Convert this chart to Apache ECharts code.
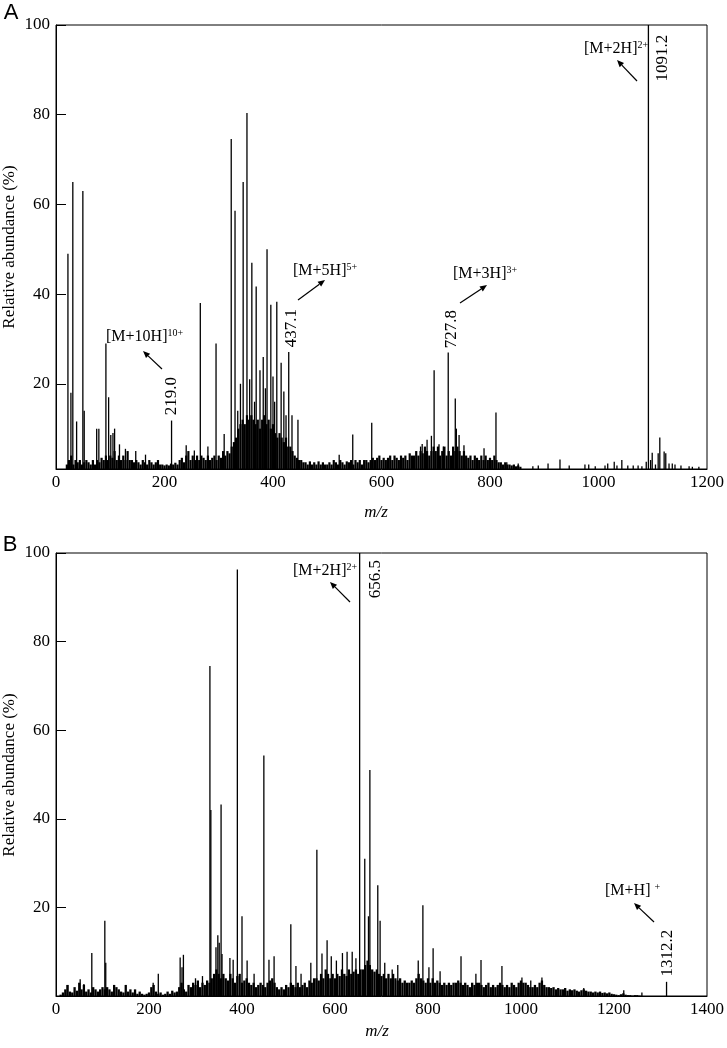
<!DOCTYPE html>
<html>
<head>
<meta charset="utf-8">
<script src="https://cdn.jsdelivr.net/npm/echarts@6.0.0/dist/echarts.min.js"></script>
<style>
  html, body { margin: 0; padding: 0; background: #fff; }
  #chart { width: 727px; height: 1048px; }
</style>
</head>
<body>
<div id="chart"></div>
<script>
// 两张质谱图的数据 (m/z, 相对丰度)
var peaksA = [
  [22, 49], [27.5, 18], [31, 65], [38, 11.6], [49.5, 63], [52, 14], [75, 10], [79, 10], [92, 29], [97, 17],
  [101, 8.6], [105, 9], [108, 10], [117, 6.5], [128, 5.5], [147, 5], [165, 4.2], [213, 11.8], [240, 6.3], [255, 5.1],
  [266, 38], [280, 6], [295, 29], [310, 8.8], [323, 74.6], [330, 58.6], [335, 14], [340, 20], [345, 65], [352, 80.4],
  [357, 21], [361, 47], [366, 16], [369, 41.7], [376, 23], [382, 26], [386, 19], [389, 50], [396, 37.6], [400, 21.6],
  [403, 16], [407, 38.3], [415, 24.7], [420, 18.3], [424, 13], [429, 27.1], [435, 13], [446, 12], [522, 4.2], [547, 8.7],
  [582, 11.3], [672, 6], [675, 6.6], [684, 7.5], [692, 8.4], [697, 23], [706, 6.5], [714, 6], [723, 27], [736, 16.7],
  [738, 10], [743, 8.6], [752, 6.3], [789, 5.6], [811, 13.6],
  [831, 2.5], [852, 2.2], [879, 1.6], [889, 1.8], [907, 2.2], [929, 3.1], [946, 1.8], [975, 2], [982, 2], [994, 1.6],
  [1012, 1.8], [1017, 2.2], [1029, 2.6], [1034, 1.8], [1043, 3], [1054, 1.8], [1064, 1.8], [1073, 1.8], [1080, 1.6], [1088, 2.6],
  [1092, 100], [1096, 3], [1099, 4.6], [1105, 2], [1110, 4.5], [1113, 8], [1121, 4.9], [1124, 4.5], [1130, 2.2], [1136, 2.2],
  [1141, 2], [1152, 1.8], [1167, 1.6], [1173, 1.5], [1185, 1.5]
];

// 基线噪声：从 20 开始，每 4 个 m/z 一个值
var noiseAStart = 20;
var noiseAStep = 4;
var noiseA = [
  2, 3, 4, 2, 3, 2.5, 3, 2, 2.5, 3,
  2.5, 2, 3, 2, 3, 2.5, 3.5, 3, 4, 3,
  4, 3.5, 5, 3, 4, 3, 4, 3, 5, 3,
  3, 2.5, 3, 2.5, 2, 3, 2.5, 2, 3, 2.5,
  2, 2.5, 3, 2, 2, 1.8, 2, 1.8, 2.2, 2,
  2.4, 2, 3, 3.5, 2.5, 4, 5, 3, 4, 3,
  4, 3, 4, 3.5, 3, 4, 3, 3.5, 4, 3,
  4, 3.5, 5, 4, 5, 4.5, 6, 7, 8, 10,
  11, 12, 11, 13, 12, 13, 12, 11, 12, 10,
  12, 13, 11, 12, 10, 11, 9, 8, 9, 8,
  7, 8, 6, 6, 5, 4, 3.5, 3, 3, 2.5,
  2.5, 2, 2.7, 2, 2.5, 2, 2.7, 2, 2.5, 2,
  2, 2.5, 2, 3, 2.5, 2, 3, 2.5, 2, 2.7,
  2.5, 3, 2, 3, 2.5, 3, 2, 3, 3, 2.5,
  3, 3.5, 3, 3.5, 4, 3, 3.5, 3, 3.5, 4,
  3, 4, 3.5, 3, 4, 3.5, 4, 3, 4.5, 4,
  4, 5, 4, 5, 4.5, 6, 5, 4, 5, 6,
  5, 6, 4, 5, 6, 4, 5, 4, 6, 5,
  6, 5, 4, 5, 4, 3.5, 4, 3, 4, 3.5,
  3, 4, 3, 4, 3, 3.5, 3, 4, 3, 2.5,
  2.5, 2, 2.5, 2, 2, 1.8, 2, 1.6, 1.8, 1.5
];

var peaksB = [
  [24, 2.5], [52, 3.8], [60, 2.7], [77, 9.7], [105, 17], [107, 7.5], [209, 3], [220, 5], [267, 8.7], [271, 6.5],
  [274, 9.3], [300, 4], [315, 4.5], [331, 74.5], [333, 42], [344, 11], [348, 13.7], [351, 12], [355, 43.2], [357, 9.5],
  [374, 8.6], [381, 8.2], [390, 96.3], [400, 18], [411, 8], [426, 5], [447, 54.3], [458, 8.2], [469, 9], [505, 16.2],
  [516, 6.8], [527, 5], [548, 7.5], [561, 33], [572, 9.6], [583, 12.6], [592, 9], [603, 8], [616, 9.7], [626, 10],
  [637, 10], [645, 8.5], [653, 100], [664, 31], [672, 18], [675, 51], [692, 25], [697, 17], [707, 7.5], [723, 6],
  [735, 7], [779, 8], [789, 20.5], [802, 6.5], [811, 10.8], [826, 5.6], [871, 9], [903, 5], [914, 8.1], [959, 6.8],
  [1002, 4.2], [1021, 3.5], [1045, 4.2], [1135, 1.8], [1221, 1.3], [1260, 0.8], [1313, 3.2]
];

// 基线噪声：从 10 开始，每 5 个 m/z 一个值
var noiseBStart = 10;
var noiseBStep = 5;
var noiseB = [
  0.3, 0.8, 1.5, 2.5, 1, 0.8, 2, 1.2, 3, 1.5,
  2.5, 1, 1.5, 0.8, 2, 1.5, 1, 1.5, 2, 1.5,
  2, 1.5, 1, 2.5, 2, 1.5, 1, 0.8, 2.5, 1,
  1.5, 0.8, 1.5, 0.5, 1, 0.5, 0.3, 0.5, 0.8, 2,
  2.5, 1, 0.5, 0.8, 0.3, 0.5, 1, 0.5, 1.2, 0.8,
  1, 2, 3, 1.5, 1, 2.5, 2, 3, 2.5, 3.5,
  2, 3, 2.5, 3.5, 3, 4, 5, 6, 5, 4,
  5, 4, 3.5, 5, 4, 3, 4.5, 5, 3, 3.5,
  4, 3, 2.5, 3, 2, 2.5, 3, 2.5, 2, 3,
  3.5, 4, 3, 2, 1.5, 2, 1.5, 2.5, 2, 3,
  2.5, 2, 3, 2, 2.5, 3, 2, 3.5, 3, 4,
  4, 3.5, 5, 4, 6, 5, 4, 5, 4, 5,
  4.5, 6, 5, 4.5, 6, 5, 5.5, 6, 5, 6,
  6, 7, 8, 7, 6, 5.5, 6, 5, 4.5, 5,
  4, 5, 4, 5, 4, 3.5, 4, 3, 3.5, 3,
  3, 3.5, 3, 4, 5, 4, 3.5, 3, 4, 3,
  4, 3, 3.5, 3, 2.5, 3, 2.5, 3, 2.5, 3,
  3, 3.5, 3, 2.5, 3, 2.5, 2, 3, 2.5, 3,
  3, 2.5, 2, 2.5, 3, 2, 2.5, 2, 2.5, 3,
  2.5, 2, 2.5, 2, 3, 2.5, 2, 3, 3.5, 3,
  3, 2.5, 2, 2, 2.5, 2, 3, 3.5, 2.5, 2,
  2, 1.8, 2, 1.5, 1.8, 1.5, 1.5, 1.8, 1.2, 1.5,
  1.3, 1.5, 1.2, 1, 1.3, 1.5, 1.2, 1, 1, 0.8,
  1, 0.8, 1, 0.7, 0.8, 0.6, 0.8, 0.5, 0.4, 0.3,
  0.2, 0.4, 0.6, 0.3, 0.2, 0.2, 0.1, 0.2, 0.2, 0.1
];

var yTicks = [20, 40, 60, 80, 100];

var SERIF = '"Liberation Serif", "Times New Roman", serif';

function noisePoints(start, step, values) {
  return values.map(function (v, i) { return [start + i * step, v]; });
}

// 每个峰画成一条从基线到峰顶的竖线
function sticks(idx, data, w) {
  return {
    type: 'custom',
    xAxisIndex: idx,
    yAxisIndex: idx,
    data: data,
    silent: true,
    clip: true,
    renderItem: function (params, api) {
      var p = api.coord([api.value(0), api.value(1)]);
      var base = params.coordSys.y + params.coordSys.height;
      if (p[1] >= base) return null;
      return {
        type: 'line',
        shape: { x1: p[0], y1: base, x2: p[0], y2: p[1] },
        style: { stroke: '#000', lineWidth: w }
      };
    }
  };
}

function xAxisOf(idx, max) {
  return {
    type: 'value', gridIndex: idx, min: 0, max: max, interval: 200,
    axisLine: { show: true, lineStyle: { color: '#000', width: 1 } },
    axisTick: { show: false },
    splitLine: { show: false },
    axisLabel: {
      color: '#000', fontFamily: SERIF, fontSize: 17, margin: 5,
      formatter: function (v) { return String(v); }
    }
  };
}

function yAxisOf(idx, min) {
  return {
    type: 'value', gridIndex: idx, min: min, max: 100,
    axisLine: { show: true, lineStyle: { color: '#000', width: 1 } },
    axisTick: { show: true, inside: true, length: 10, customValues: yTicks, lineStyle: { color: '#000', width: 1 } },
    splitLine: { show: false },
    axisLabel: { color: '#000', fontFamily: SERIF, fontSize: 17, margin: 6, customValues: yTicks }
  };
}

function ion(x, y, main, sup) {
  return {
    type: 'text', x: x, y: y,
    style: {
      text: '{m|' + main + '}{s|' + sup + '}',
      verticalAlign: 'middle',
      rich: {
        m: { fontFamily: SERIF, fontSize: 16, fill: '#000', lineHeight: 18 },
        s: { fontFamily: SERIF, fontSize: 10, fill: '#000', verticalAlign: 'top', lineHeight: 11 }
      }
    }
  };
}

function vlabel(x, y, t) {
  return {
    type: 'text', x: x, y: y, rotation: Math.PI / 2,
    style: { text: t, fontFamily: SERIF, fontSize: 17, fill: '#000', align: 'center', verticalAlign: 'middle' }
  };
}

function plainText(x, y, t, opts) {
  var style = { text: t, fontFamily: SERIF, fontSize: 17, fill: '#000', align: 'center', verticalAlign: 'middle' };
  for (var k in opts) style[k] = opts[k];
  return { type: 'text', x: x, y: y, style: style };
}

function arrow(x1, y1, x2, y2) {
  var a = Math.atan2(y2 - y1, x2 - x1), L = 7, W = 3;
  var bx = x2 - L * Math.cos(a), by = y2 - L * Math.sin(a);
  var nx = -Math.sin(a) * W, ny = Math.cos(a) * W;
  return [
    { type: 'line', shape: { x1: x1, y1: y1, x2: bx, y2: by }, style: { stroke: '#000', lineWidth: 1.2 } },
    { type: 'polygon', shape: { points: [[x2, y2], [bx + nx, by + ny], [bx - nx, by - ny]] }, style: { fill: '#000' } }
  ];
}

var graphics = [
  plainText(11, 13, 'A', { fontFamily: '"Liberation Sans", Arial, sans-serif', fontSize: 22 }),
  plainText(10, 545, 'B', { fontFamily: '"Liberation Sans", Arial, sans-serif', fontSize: 22 }),
  { type: 'text', x: 10, y: 247, rotation: Math.PI / 2,
    style: { text: 'Relative abundance (%)', fontFamily: SERIF, fontSize: 17, fill: '#000', align: 'center', verticalAlign: 'middle' } },
  { type: 'text', x: 10, y: 775, rotation: Math.PI / 2,
    style: { text: 'Relative abundance (%)', fontFamily: SERIF, fontSize: 17, fill: '#000', align: 'center', verticalAlign: 'middle' } },
  plainText(376, 513, 'm/z', { fontStyle: 'italic' }),
  plainText(377, 1032, 'm/z', { fontStyle: 'italic' }),

  ion(106, 337, '[M+10H]', '10+'),
  vlabel(172, 396, '219.0'),
  ion(293, 271, '[M+5H]', '5+'),
  vlabel(292, 328, '437.1'),
  ion(453, 274, '[M+3H]', '3+'),
  vlabel(452, 329, '727.8'),
  ion(584, 49, '[M+2H]', '2+'),
  vlabel(663, 58, '1091.2'),

  ion(293, 571, '[M+2H]', '2+'),
  vlabel(376, 579, '656.5'),
  ion(605, 891, '[M+H] ', '+'),
  vlabel(668, 953, '1312.2')
]
  .concat(arrow(162, 369, 143, 351))
  .concat(arrow(298, 300, 325, 280))
  .concat(arrow(460, 303, 487, 285))
  .concat(arrow(637, 81, 617, 60))
  .concat(arrow(350, 602, 330, 582))
  .concat(arrow(654, 922, 634, 903));

var chart = echarts.init(document.getElementById('chart'));

var option = {
  animation: false,
  backgroundColor: '#fff',
  grid: [
    { left: 56, right: 18, top: 25, height: 444, show: true, borderColor: '#000', borderWidth: 1 },
    { left: 56, right: 19, top: 553, height: 443, show: true, borderColor: '#000', borderWidth: 1 }
  ],
  xAxis: [xAxisOf(0, 1200), xAxisOf(1, 1400)],
  yAxis: [yAxisOf(0, 1), yAxisOf(1, 0)],
  series: [
    sticks(0, noisePoints(noiseAStart, noiseAStep, noiseA), 2.2),
    sticks(0, peaksA, 1.3),
    sticks(1, noisePoints(noiseBStart, noiseBStep, noiseB), 2.3),
    sticks(1, peaksB, 1.3)
  ],
  graphic: graphics
};

chart.setOption(option);
</script>
</body>
</html>
